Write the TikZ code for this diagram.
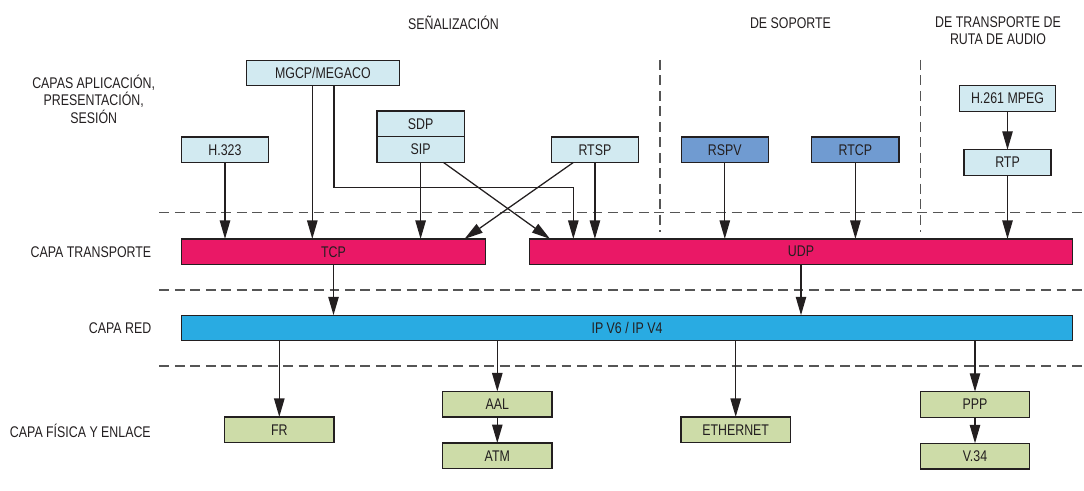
\documentclass[tikz,border=0pt]{standalone}
\usepackage{fontspec}
\setmainfont{Liberation Sans}[FakeStretch=0.8]
\usetikzlibrary{positioning,arrows.meta,calc}
\definecolor{EdgeDark}{RGB}{35,31,32}
\definecolor{SepGray}{RGB}{85,85,85}
\definecolor{ProtoBlue}{RGB}{210,234,241}
\definecolor{SupportBlue}{RGB}{112,155,209}
\definecolor{TransPink}{RGB}{234,24,102}
\definecolor{NetCyan}{RGB}{41,171,226}
\definecolor{LinkGreen}{RGB}{205,220,168}
\tikzset{
  flow/.style={-{Triangle[length=4.6mm,width=2.6mm]},line width=0.9pt,draw=EdgeDark},
  layerline/.style={draw=SepGray,line width=0.8pt,dash pattern=on 7pt off 4pt},
  box/.style={draw=EdgeDark,fill=ProtoBlue,line width=0.9pt,outer sep=0pt,inner sep=0pt,
    minimum width=2.18cm,minimum height=0.64cm,align=center,text=EdgeDark,
    font=\fontsize{11}{12.5}\selectfont},
  supportbox/.style={box,fill=SupportBlue},
  transbar/.style={box,fill=TransPink},
  netbar/.style={box,fill=NetCyan},
  linkbox/.style={box,fill=LinkGreen,minimum width=2.74cm},
  headtext/.style={inner sep=0pt,align=center,text=EdgeDark,
    font=\fontsize{11}{12.5}\selectfont},
  layertext/.style={headtext,anchor=east}
}
\begin{document}
\begin{tikzpicture}[x=0.025cm,y=-0.025cm,node distance=0.65cm]
  \useasboundingbox (0,0) rectangle (1084,491);
  \node[headtext] (senal) at (453.5,22.7) {SEÑALIZACIÓN};
  \node[headtext] (soporte) at (790.5,22.7) {DE SOPORTE};
  \node[headtext] (ruta) at (998,30.5) {DE TRANSPORTE DE\\RUTA DE AUDIO};
  \node[headtext] (applayer) at (93.7,99) {CAPAS APLICACIÓN,\\PRESENTACIÓN,\\SESIÓN};
  \node[layertext] (translayer) at (151.5,252) {CAPA TRANSPORTE};
  \node[layertext] (netlayer) at (151.5,327.7) {CAPA RED};
  \node[layertext] (linklayer) at (151,430.7) {CAPA FÍSICA Y ENLACE};

  \draw[layerline] (159.4,212.3) -- (1084,212.3);
  \draw[layerline] (159.4,290) -- (1084,290);
  \draw[layerline] (159.4,366) -- (1084,366);
  \draw[layerline] (660,60) -- (660,232);
  \draw[layerline] (920.6,60) -- (920.6,232);

  \node[box,minimum width=3.83cm] (mgcp) at (322.9,73) {MGCP/MEGACO};
  \node[box] (sdp) at (420.6,123.9) {SDP};
  \node[box,below=0pt of sdp] (sip) {SIP};
  \node[box] (h323) at (225,149.7) {H.323};
  \node[box] (rtsp) at (594.9,149.7) {RTSP};
  \node[supportbox] (rspv) at (724.8,149.7) {RSPV};
  \node[supportbox] (rtcp) at (855.4,149.7) {RTCP};
  \node[box,minimum width=2.39cm] (h261) at (1007.5,98.5) {H.261 MPEG};
  \node[box,below=0.96cm of h261] (rtp) {RTP};

  \node[transbar,minimum width=7.6cm] (tcp) at (333.5,251.7) {TCP};
  \node[transbar,minimum width=13.58cm] (udp) at (801,251.7) {UDP};
  \node[netbar,minimum width=22.28cm] (ip) at (627,328) {IP V6 / IP V4};

  \node[linkbox] (fr) at (279.3,429.7) {FR};
  \node[linkbox] (aal) at (497.3,404.2) {AAL};
  \node[linkbox,below=of aal] (atm) {ATM};
  \node[linkbox] (eth) at (735.7,429.7) {ETHERNET};
  \node[linkbox] (ppp) at (975,404.5) {PPP};
  \node[linkbox,below=of ppp] (v34) {V.34};

  \coordinate (mgcpleft) at ($(mgcp.south)+(-10.6,0)$);
  \coordinate (mgcpright) at ($(mgcp.south)+(11.1,0)$);
  \draw[flow] (h323) -- (h323 |- tcp.north);
  \draw[flow] (mgcpleft) -- (mgcpleft |- tcp.north);
  \draw[flow] (mgcpright) -- ++(0,102) -| ($(udp.north west)+(44,0)$);
  \draw[flow] (sip) -- (sip |- tcp.north);
  \draw[flow] ($(sip.south)+(22.7,0)$) -- ($(udp.north west)+(20.7,0)$);
  \draw[flow] ($(rtsp.south)+(-21.6,0)$) -- ($(tcp.north east)+(-21,0)$);
  \draw[flow] (rtsp) -- (rtsp |- udp.north);
  \draw[flow] (rspv) -- (rspv |- udp.north);
  \draw[flow] (rtcp) -- (rtcp |- udp.north);
  \draw[flow] (h261) -- (rtp);
  \draw[flow] (rtp) -- (rtp |- udp.north);
  \draw[flow] (tcp) -- (tcp |- ip.north);
  \draw[flow] (udp) -- (udp |- ip.north);
  \draw[flow] (fr |- ip.south) -- (fr);
  \draw[flow] (aal |- ip.south) -- (aal);
  \draw[flow] (aal) -- (atm);
  \draw[flow] (eth |- ip.south) -- (eth);
  \draw[flow] (ppp |- ip.south) -- (ppp);
  \draw[flow] (ppp) -- (v34);
\end{tikzpicture}
\end{document}
